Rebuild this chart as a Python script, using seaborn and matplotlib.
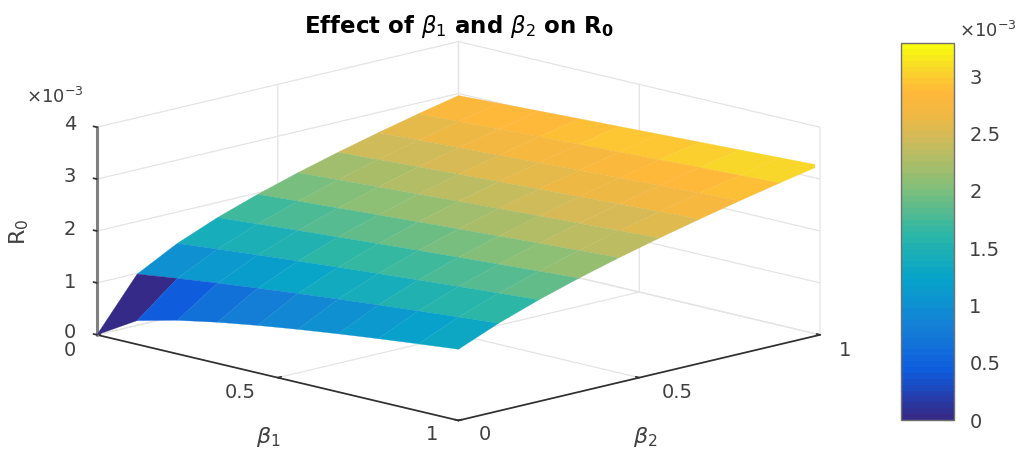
import numpy as np
import matplotlib
matplotlib.use("Agg")
import matplotlib.pyplot as plt
import seaborn as sns

# ==============================
# 1. Data (R0 in units of 1e-3)
# ==============================
beta_1 = [0, 1/9, 2/9, 3/9, 4/9, 5/9, 6/9, 7/9, 8/9, 1]
beta_2 = [0, 1/9, 2/9, 3/9, 4/9, 5/9, 6/9, 7/9, 8/9, 1]

# one row per beta_2 value, one column per beta_1 value
r0_row0 = [0.000, 0.457, 0.646, 0.792, 0.914, 1.022, 1.119, 1.209, 1.292, 1.371]
r0_row1 = [0.987, 1.087, 1.179, 1.265, 1.345, 1.420, 1.492, 1.561, 1.626, 1.689]
r0_row2 = [1.395, 1.468, 1.538, 1.604, 1.668, 1.729, 1.789, 1.846, 1.902, 1.956]
r0_row3 = [1.709, 1.769, 1.827, 1.883, 1.938, 1.991, 2.043, 2.093, 2.143, 2.191]
r0_row4 = [1.973, 2.025, 2.076, 2.126, 2.175, 2.222, 2.269, 2.314, 2.359, 2.403]
r0_row5 = [2.206, 2.253, 2.299, 2.344, 2.388, 2.431, 2.474, 2.516, 2.557, 2.597]
r0_row6 = [2.417, 2.459, 2.502, 2.543, 2.584, 2.624, 2.663, 2.702, 2.741, 2.778]
r0_row7 = [2.610, 2.650, 2.689, 2.728, 2.766, 2.803, 2.840, 2.877, 2.913, 2.948]
r0_row8 = [2.791, 2.828, 2.864, 2.901, 2.936, 2.972, 3.007, 3.041, 3.075, 3.109]
r0_row9 = [2.960, 2.995, 3.030, 3.064, 3.098, 3.131, 3.164, 3.197, 3.230, 3.262]

axis_ticks = [0, 0.5, 1]
axis_tick_labels = ["0", "0.5", "1"]
z_ticks = [0, 1, 2, 3, 4]
z_tick_labels = ["0", "1", "2", "3", "4"]
cbar_ticks = [0, 0.5, 1, 1.5, 2, 2.5, 3]
cbar_tick_labels = ["0", "0.5", "1", "1.5", "2", "2.5", "3"]
parula_colors = ["#352a87", "#2242b2", "#0f5cdd", "#126fd9", "#1481d6", "#0d93d0",
                 "#06a4ca", "#1aaeb7", "#2eb7a4", "#5bbb8d", "#87bf77", "#acbd68",
                 "#d1bb59", "#eeb843", "#ffb83a", "#f8d72a", "#f9fb0e"]

# ==============================
# 2. Style
# ==============================
W, H = 1022, 454
TEXT = "#404040"
GRID = "#e4e4e4"
DARK = "#303030"
TICK_SIZE = 14

sns.set_theme(style="white")
plt.rcParams["font.family"] = ["DejaVu Sans"]
plt.rcParams["mathtext.fontset"] = "dejavusans"

cmap = sns.blend_palette(parula_colors, as_cmap=True).resampled(64)
norm = plt.Normalize(0, 3.29)


def px(x, y):
    return x / W, 1 - y / H


# ==============================
# 3. Surface
# ==============================
fig = plt.figure(figsize=(W / 100, H / 100), dpi=100)
side = 732
ax = fig.add_axes([82.6 / W, -152.9 / H, side / W, side / H],
                  projection="3d", proj_type="ortho")
ax.patch.set_alpha(0)
ax.set_box_aspect((512, 512, 214))
ax.view_init(elev=13.7, azim=-45)

X, Y = np.meshgrid(beta_1, beta_2)
Z = np.array([r0_row0, r0_row1, r0_row2, r0_row3, r0_row4,
              r0_row5, r0_row6, r0_row7, r0_row8, r0_row9])
ax.plot_surface(X, Y, Z, facecolors=cmap(norm(Z)), rstride=1, cstride=1,
                shade=False, linewidth=0.2, antialiased=True)

ax.set_xlim(0, 1)
ax.set_ylim(0, 1)
ax.set_zlim(0, 4)
ax.set_xticks(axis_ticks)
ax.set_yticks(axis_ticks)
ax.set_zticks(z_ticks)
# mplot3d only pads along the tick direction, so the labels are placed below
ax.set_xticklabels([])
ax.set_yticklabels([])
ax.set_zticklabels([])
ax.tick_params(colors=DARK)

for axis in (ax.xaxis, ax.yaxis, ax.zaxis):
    axis.set_pane_color((1, 1, 1, 0))
    axis.pane.set_edgecolor(GRID)
    axis._axinfo["grid"].update(color=GRID, linewidth=0.9)
    axis._axinfo["tick"].update(inward_factor=0.0, outward_factor=0.12)
ax.xaxis.line.set_color(DARK)
ax.yaxis.line.set_color(DARK)
ax.zaxis.line.set_color("#808080")
ax.zaxis.line.set_linewidth(2.2)
ax.zaxis._axinfo["juggled"] = (1, 2, 0)
ax.grid(True)

# ==============================
# 4. Labels
# ==============================
for label, pos in zip(axis_tick_labels, [(70, 350), (240, 392), (432, 435)]):
    fig.text(*px(*pos), label, ha="center", va="center", fontsize=TICK_SIZE, color=TEXT)
for label, pos in zip(axis_tick_labels, [(485, 435), (677, 392), (845, 350)]):
    fig.text(*px(*pos), label, ha="center", va="center", fontsize=TICK_SIZE, color=TEXT)
for label, y in zip(z_tick_labels, [333, 282, 229, 177, 125]):
    fig.text(*px(70, y), label, ha="center", va="center", fontsize=TICK_SIZE, color=TEXT)

fig.text(*px(459, 26), r"Effect of $\beta_1$ and $\beta_2$ on R$_\mathbf{0}$", ha="center", va="center",
         fontsize=16.5, fontweight="bold", color="black")
fig.text(*px(268, 437), r"$\beta_1$", ha="center", va="center", fontsize=16, color=TEXT)
fig.text(*px(645, 437), r"$\beta_2$", ha="center", va="center", fontsize=16, color=TEXT)
fig.text(*px(19, 232), r"R$_0$", ha="center", va="center", rotation=90, fontsize=16, color=TEXT)
fig.text(*px(55, 97), r"$\times$10$^{-3}$", ha="center", va="center", fontsize=13, color=TEXT)

# ==============================
# 5. Colorbar
# ==============================
cax = fig.add_axes([901 / W, 1 - 420 / H, 53 / W, 377 / H])
sm = plt.cm.ScalarMappable(norm=norm, cmap=cmap)
cbar = fig.colorbar(sm, cax=cax)
cbar.set_ticks(cbar_ticks)
cbar.set_ticklabels(cbar_tick_labels)
cbar.ax.tick_params(direction="in", length=7, width=0.8, color=DARK, labelcolor=TEXT,
                    labelsize=TICK_SIZE, pad=11, right=True)
cbar.outline.set_edgecolor("#707070")
cbar.outline.set_linewidth(1.0)
fig.text(*px(988, 31), r"$\times$10$^{-3}$", ha="center", va="center", fontsize=13, color=TEXT)

fig.savefig("out.png", dpi=100)
